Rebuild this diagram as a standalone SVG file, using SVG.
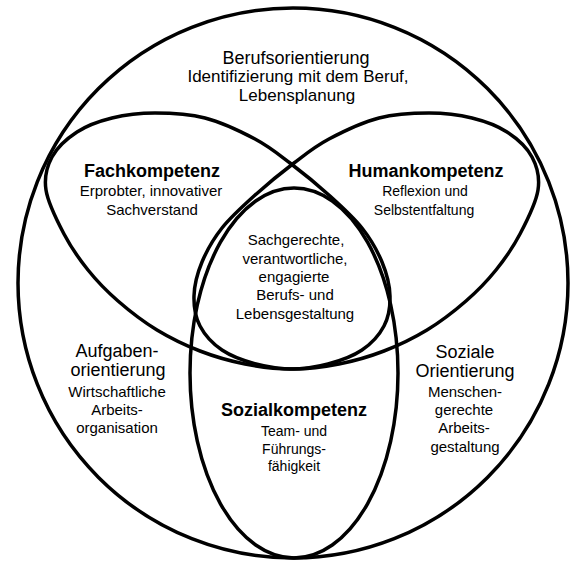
<svg xmlns="http://www.w3.org/2000/svg" width="579" height="561" viewBox="0 0 579 561">
<style>
.sh{fill:none;stroke:#000;stroke-width:3.5}
text{font-family:"Liberation Sans",Arial,Helvetica,sans-serif;fill:#000;text-anchor:middle}
.t{font-size:18px}
.b{font-size:18px;font-weight:bold}
.s{font-size:15px}
.m{font-size:17px}
.n{font-size:14px}
</style>
<defs>
<path id="lobe" d="M46,190 C44,177.2 46.8,166.7 52,157 C57.2,147.3 67,138.5 77,132 C87,125.5 99,121.2 112,118 C125,114.8 139.5,113 155,113 C170.5,113 188.3,113.7 205,118 C221.7,122.3 240.8,131.5 255,139 C269.2,146.5 277.5,153.5 290,163 C302.5,172.5 318,185.2 330,196 C342,206.8 353.3,217 362,228 C370.7,239 377.3,250.7 382,262 C386.7,273.3 389.7,285.3 390,296 C390.3,306.7 388.7,317 384,326 C379.3,335 371.3,343.7 362,350 C352.7,356.3 340,360.8 328,364 C316,367.2 303.8,369 290,369 C276.2,369 260,367 245,364 C230,361 214.7,356.7 200,351 C185.3,345.3 170.7,338.3 157,330 C143.3,321.7 129.5,311 118,301 C106.5,291 97,281.2 88,270 C79,258.8 71,247.3 64,234 C57,220.7 48,203.3 46,190 Z"/>
</defs>
<rect width="579" height="561" fill="#fff"/>
<g id="berufsorientierung">
<circle class="sh" cx="293" cy="283" r="275"/>
<text class="t" x="296" y="64">Berufsorientierung</text>
<text class="m" x="298" y="82">Identifizierung mit dem Beruf,</text>
<text class="m" x="297" y="101">Lebensplanung</text>
</g>
<g id="fachkompetenz">
<use href="#lobe" class="sh"/>
<text class="b" x="152" y="177">Fachkompetenz</text>
<text class="s" x="151" y="196">Erprobter, innovativer</text>
<text class="s" x="152" y="214.5">Sachverstand</text>
</g>
<g id="humankompetenz">
<use href="#lobe" class="sh" transform="matrix(-1 0 0 1 584 0)"/>
<text class="b" x="426" y="177">Humankompetenz</text>
<text class="n" x="425" y="196">Reflexion und</text>
<text class="n" x="424" y="214.5">Selbstentfaltung</text>
</g>
<g id="sozialkompetenz">
<ellipse class="sh" cx="294" cy="373" rx="104" ry="185"/>
<text class="b" x="294" y="416">Sozialkompetenz</text>
<text class="n" x="294" y="436">Team- und</text>
<text class="n" x="294" y="453.5">Führungs-</text>
<text class="n" x="294" y="471">fähigkeit</text>
</g>
<g id="zentrum">
<text class="s" x="296" y="245">Sachgerechte,</text>
<text class="s" x="295" y="263.5">verantwortliche,</text>
<text class="s" x="294" y="282">engagierte</text>
<text class="s" x="295" y="300">Berufs- und</text>
<text class="s" x="295" y="318.5">Lebensgestaltung</text>
</g>
<g id="aufgabenorientierung">
<text class="t" x="117" y="357">Aufgaben-</text>
<text class="t" x="118" y="376">orientierung</text>
<text class="s" x="117" y="397">Wirtschaftliche</text>
<text class="s" x="117" y="415">Arbeits-</text>
<text class="s" x="117" y="433">organisation</text>
</g>
<g id="soziale-orientierung">
<text class="t" x="465" y="358">Soziale</text>
<text class="t" x="465" y="377">Orientierung</text>
<text class="s" x="465" y="397">Menschen-</text>
<text class="s" x="464" y="415">gerechte</text>
<text class="s" x="464" y="433">Arbeits-</text>
<text class="s" x="465" y="452">gestaltung</text>
</g>
</svg>
